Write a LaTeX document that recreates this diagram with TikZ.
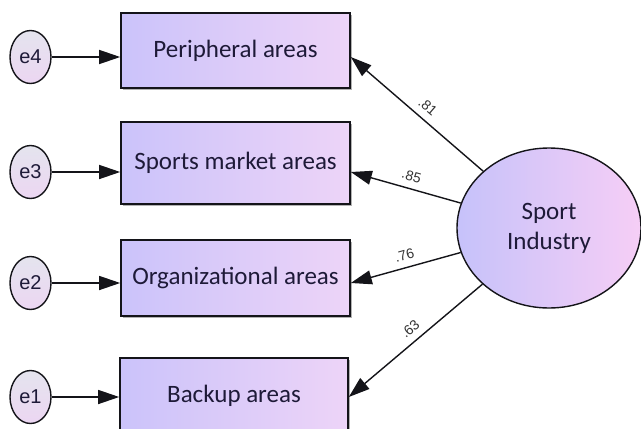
\documentclass[tikz,border=0pt]{standalone}
\usepackage{fontspec}
\setmainfont{Carlito}
\newfontfamily\arialf{Liberation Sans}
\usetikzlibrary{shapes.geometric,arrows.meta,shadows}
\definecolor{boxL}{RGB}{203,195,250}
\definecolor{boxR}{RGB}{237,212,248}
\definecolor{siL}{RGB}{198,194,250}
\definecolor{siR}{RGB}{246,206,246}
\definecolor{eT}{RGB}{228,228,238}
\definecolor{eB}{RGB}{236,214,242}
\definecolor{txt}{RGB}{30,26,56}
\definecolor{edge}{RGB}{20,20,25}
\tikzset{
  varbox/.style={draw=edge, line width=1.6pt, left color=boxL, right color=boxR,
    minimum width=229pt, inner sep=0pt, font=\fontsize{25}{30}\selectfont, text=txt,
    drop shadow={shadow xshift=1.5pt, shadow yshift=-1.5pt, fill=black, opacity=0.3}},
  errnode/.style={draw=edge, ellipse, line width=1.4pt, top color=eT, bottom color=eB,
    minimum width=41pt, minimum height=53pt, inner sep=0pt,
    font=\arialf\fontsize{20}{24}\selectfont, text=txt},
  latent/.style={draw=edge, ellipse, line width=1.4pt, left color=siL, right color=siR,
    minimum width=184pt, minimum height=160pt, inner sep=0pt, align=center,
    font=\fontsize{25}{30}\selectfont, text=txt},
  arr/.style={line width=1.4pt, draw=edge, -{Triangle[length=21pt,width=14pt]}},
  larr/.style={line width=1.4pt, draw=edge, {Triangle[length=21pt,width=14pt]}-},
  coef/.style={sloped, above=7pt, pos=0.52, inner sep=0pt, font=\arialf\fontsize{14}{16}\selectfont, text=black!80}
}
\begin{document}
\begin{tikzpicture}[x=1pt,y=-1pt]
\useasboundingbox (0,0) rectangle (641,429);
% boxes
\node[varbox, minimum height=75pt] (b4) at (235.5,50.5) {Peripheral areas};
\node[varbox, minimum height=82pt] (b3) at (235.5,163) {Sports market areas};
\node[varbox, minimum height=76pt] (b2) at (235.5,278) {Organizational areas};
\node[varbox, minimum height=76pt, minimum width=228pt] (b1) at (234,396) {Backup areas};
% error terms
\node[errnode] (e4) at (30.5,57) {e4};
\node[errnode] (e3) at (30.5,172) {e3};
\node[errnode] (e2) at (30.5,283) {e2};
\node[errnode] (e1) at (30.5,397) {e1};
\draw[arr] (e4) -- (e4 -| b4.west);
\draw[arr] (e3) -- (e3 -| b3.west);
\draw[arr] (e2) -- (e2 -| b2.west);
\draw[arr] (e1) -- (e1 -| b1.west);
% latent
\node[latent] (si) at (549,228) {Sport\\Industry};
\coordinate (t4) at (e4 -| b4.east);
\coordinate (t3) at (e3 -| b3.east);
\coordinate (t2) at (e2 -| b2.east);
\coordinate (t1) at (e1 -| b1.east);
\draw[larr] (t4) -- (si) node[coef] {.81};
\draw[larr] (t3) -- (si) node[coef] {.85};
\draw[larr] (t2) -- (si) node[coef] {.76};
\draw[larr] (t1) -- (si) node[coef] {.63};
\end{tikzpicture}
\end{document}
